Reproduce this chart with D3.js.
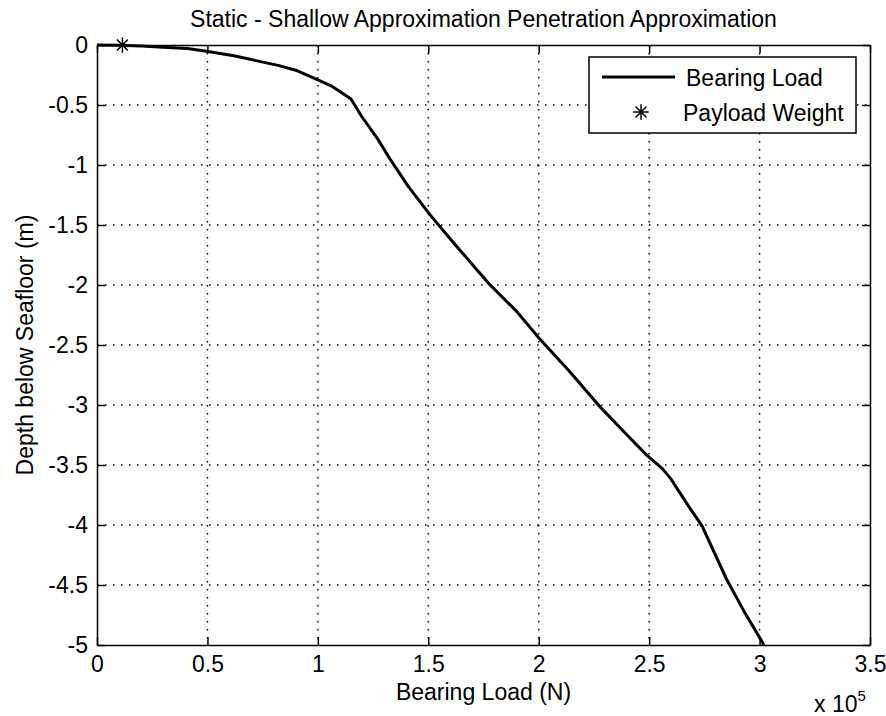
<html>
<head>
<script src="https://d3js.org/d3.v7.min.js" charset="utf-8"></script>
<style>
  body { margin: 0; background: #fff; }
  text { font-family: "Liberation Sans", Arial, sans-serif; fill: #000; }
</style>
</head>
<body>
<svg id="chart" width="886" height="716"></svg>
<script>

    // bearing load in units of 1e5 N, depth in m
    var load  = [0, 0.1, 0.2, 0.3, 0.41, 0.51, 0.62, 0.72, 0.82, 0.9, 1.0, 1.06, 1.11, 1.15, 1.2, 1.27, 1.33, 1.41, 1.51, 1.62, 1.77, 1.9, 2.0, 2.14, 2.28, 2.4, 2.49, 2.56, 2.6, 2.67, 2.74, 2.85, 2.93, 3.02];
    var depth = [0, -0.002, -0.008, -0.018, -0.03, -0.057, -0.09, -0.13, -0.17, -0.21, -0.29, -0.34, -0.40, -0.45, -0.60, -0.78, -0.96, -1.18, -1.42, -1.66, -1.98, -2.22, -2.44, -2.72, -3.02, -3.25, -3.42, -3.53, -3.62, -3.82, -4.01, -4.45, -4.72, -5.0];

    var payloadLoad = [0.115];
    var payloadDepth = [0];

    var xTicks = [0, 0.5, 1, 1.5, 2, 2.5, 3, 3.5];
    var yTicks = [0, -0.5, -1, -1.5, -2, -2.5, -3, -3.5, -4, -4.5, -5];

    var legendLabels = ["Bearing Load", "Payload Weight"];

    var pl = 97, pr = 870, pt = 45, pb = 645;
    var fs = 23, ticklen = 8;

    var svg = d3.select("#chart");

    var x = d3.scaleLinear().domain([0, 3.5]).range([pl, pr]);
    var y = d3.scaleLinear().domain([-5, 0]).range([pb, pt]);

    var pts = load.map(function(d, i){ return {x: d, y: depth[i]}; });

    // grid
    svg.selectAll("line.gx")
        .data(xTicks.slice(1, -1))
        .enter().append("line")
        .attr("x1", function(d){ return x(d); })
        .attr("x2", function(d){ return x(d); })
        .attr("y1", pt).attr("y2", pb)
        .attr("stroke", "#000").attr("stroke-width", 1.5)
        .attr("stroke-dasharray", "1.5,6.5");

    svg.selectAll("line.gy")
        .data(yTicks.slice(1, -1))
        .enter().append("line")
        .attr("y1", function(d){ return y(d); })
        .attr("y2", function(d){ return y(d); })
        .attr("x1", pl).attr("x2", pr)
        .attr("stroke", "#000").attr("stroke-width", 1.5)
        .attr("stroke-dasharray", "1.5,6.5");

    // axes, ticks inside on all four sides
    var fmt = function(d){ return String(d); };

    svg.append("g")
        .attr("transform", "translate(0," + pb + ")")
        .call(d3.axisBottom(x).tickValues(xTicks).tickFormat(fmt).tickSizeInner(-ticklen).tickSizeOuter(0).tickPadding(11));
    svg.append("g")
        .attr("transform", "translate(0," + pt + ")")
        .call(d3.axisTop(x).tickValues(xTicks).tickFormat("").tickSizeInner(-ticklen).tickSizeOuter(0));
    svg.append("g")
        .attr("transform", "translate(" + pl + ",0)")
        .call(d3.axisLeft(y).tickValues(yTicks).tickFormat(fmt).tickSizeInner(-ticklen).tickSizeOuter(0).tickPadding(9));
    svg.append("g")
        .attr("transform", "translate(" + pr + ",0)")
        .call(d3.axisRight(y).tickValues(yTicks).tickFormat("").tickSizeInner(-ticklen).tickSizeOuter(0));

    svg.selectAll(".domain").attr("stroke", "#000").attr("stroke-width", 1.5);
    svg.selectAll(".tick line").attr("stroke", "#000").attr("stroke-width", 1.5);
    svg.selectAll(".tick text")
        .style("font-size", fs + "px")
        .style("font-family", "Liberation Sans, Arial, sans-serif")
        .attr("fill", "#000");

    // curve
    var line = d3.line()
        .x(function(d){ return x(d.x); })
        .y(function(d){ return y(d.y); });

    svg.append("path")
        .datum(pts)
        .attr("d", line)
        .attr("fill", "none")
        .attr("stroke", "#000")
        .attr("stroke-width", 3)
        .attr("stroke-linejoin", "round");

    // payload marker (8-armed star like matlab '*')
    function star(g, cx, cy, size){
        [d3.symbolPlus, d3.symbolX].forEach(function(t){
            g.append("path")
                .attr("d", d3.symbol(t, size)())
                .attr("transform", "translate(" + cx + "," + cy + ")")
                .attr("fill", "none").attr("stroke", "#000").attr("stroke-width", 1.5);
        });
    }

    payloadLoad.forEach(function(d, i){ star(svg, x(d), y(payloadDepth[i]), 80); });

    // legend
    var lg = svg.append("g");
    lg.append("rect")
        .attr("x", 589).attr("y", 57)
        .attr("width", 267).attr("height", 76)
        .attr("fill", "#fff").attr("stroke", "#000").attr("stroke-width", 1.5);
    lg.append("line")
        .attr("x1", 602).attr("x2", 675)
        .attr("y1", 77).attr("y2", 77)
        .attr("stroke", "#000").attr("stroke-width", 3);
    star(lg, 641, 112, 80);
    lg.selectAll("text")
        .data(legendLabels)
        .enter().append("text")
        .attr("x", function(d, i){ return i === 0 ? 686 : 683; })
        .attr("y", function(d, i){ return i === 0 ? 86 : 121; })
        .style("font-size", fs + "px")
        .text(function(d){ return d; });

    // titles
    svg.append("text")
        .attr("x", (pl + pr) / 2).attr("y", 27)
        .attr("text-anchor", "middle")
        .style("font-size", fs + "px")
        .text("Static - Shallow Approximation Penetration Approximation");

    svg.append("text")
        .attr("x", (pl + pr) / 2).attr("y", 700)
        .attr("text-anchor", "middle")
        .style("font-size", fs + "px")
        .text("Bearing Load (N)");

    svg.append("text")
        .attr("transform", "translate(33," + ((pt + pb) / 2) + ") rotate(-90)")
        .attr("text-anchor", "middle")
        .style("font-size", fs + "px")
        .text("Depth below Seafloor (m)");

    var ex = svg.append("text")
        .attr("x", 814).attr("y", 712)
        .style("font-size", fs + "px");
    ex.append("tspan").text("x 10");
    ex.append("tspan").attr("dy", -11).style("font-size", "15px").text("5");

</script>
</body>
</html>
